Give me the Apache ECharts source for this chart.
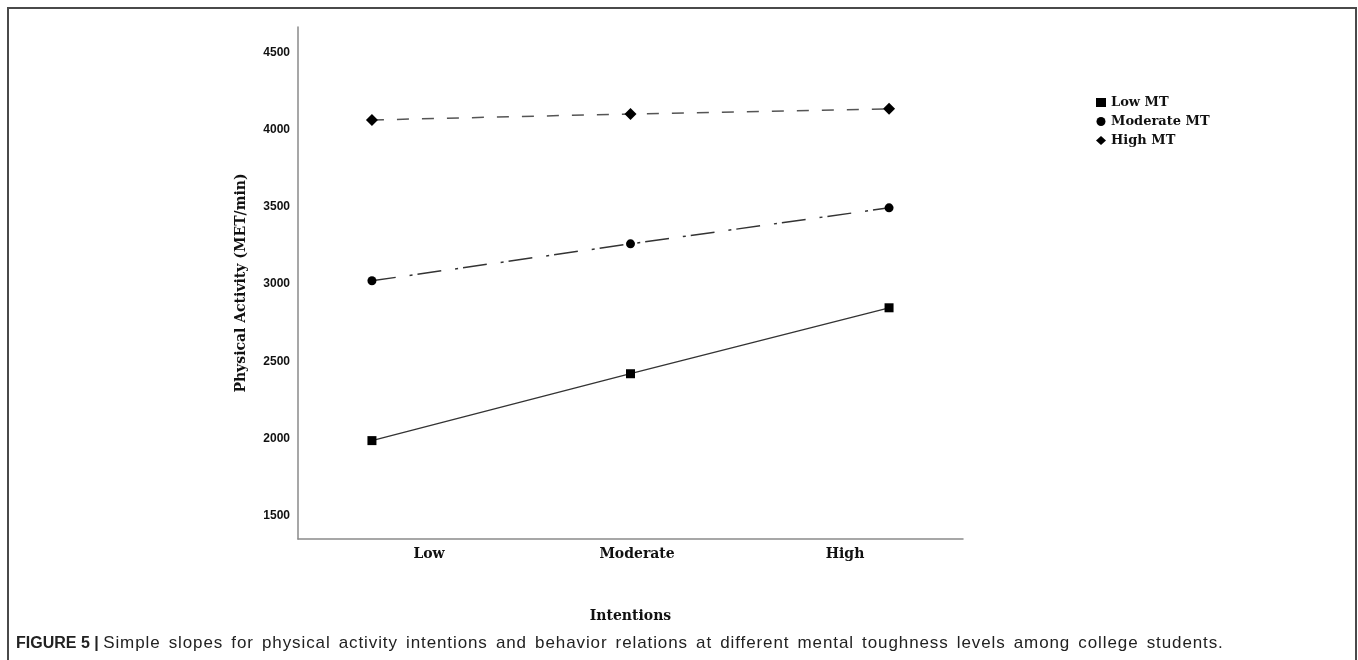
<!DOCTYPE html>
<html>
<head>
<meta charset="utf-8">
<script src="https://cdn.jsdelivr.net/npm/echarts@6/dist/echarts.min.js"></script>
<style>
  html, body { margin: 0; padding: 0; background: #fff; }
  #frame { position: absolute; left: 7px; top: 7px; width: 1346px; height: 720px;
           border: 2px solid #4a4a4a; border-bottom: none; }
  #chart { position: absolute; left: 0; top: 0; width: 1358px; height: 660px; }
  #caption { position: absolute; left: 16px; top: 633px; font-family: "Liberation Sans", Arial, sans-serif;
             font-size: 16px; color: #222; white-space: nowrap; }
  #caption span { font-size: 17px; letter-spacing: 0.9px; word-spacing: 2.5px; }
</style>
</head>
<body>
<div id="frame"></div>
<div id="chart"></div>
<div id="caption"><b>FIGURE 5 |</b> <span>Simple slopes for physical activity intentions and behavior relations at different mental toughness levels among college students.</span></div>
<script>
const categories = ['Low', 'Moderate', 'High'];
const seriesNames = ['Low MT', 'Moderate MT', 'High MT'];
const lowMT = [1987, 2420, 2847];
const moderateMT = [3022, 3261, 3494];
const highMT = [4063, 4102, 4135];
const yTicks = [1500, 2000, 2500, 3000, 3500, 4000, 4500];

const serif = '"DejaVu Serif", serif';
const toPts = arr => arr.map((v, i) => [i, v]);
const catLabel = v => (Math.abs(v - Math.round(v)) < 1e-6 && categories[Math.round(v)] !== undefined) ? categories[Math.round(v)] : '';

const chart = echarts.init(document.getElementById('chart'));
chart.setOption({
  animation: false,
  backgroundColor: 'transparent',
  grid: { left: 298, right: 395, top: 27, bottom: 121 },
  legend: {
    orient: 'vertical', left: 1091, top: 91, itemGap: 6, itemWidth: 10, itemHeight: 9,
    textStyle: { fontFamily: serif, fontWeight: 'bold', fontSize: 13, color: '#111' },
    data: [
      { name: seriesNames[0], icon: 'rect', itemStyle: { color: '#000' } },
      { name: seriesNames[1], icon: 'circle', itemStyle: { color: '#000' } },
      { name: seriesNames[2], icon: 'diamond', itemStyle: { color: '#000' } }
    ]
  },
  xAxis: [
    {
      type: 'value', min: -0.286, max: 2.286, splitNumber: 2,
      axisLine: { show: true, onZero: false, lineStyle: { color: '#8a8a8a', width: 1.5 } },
      axisTick: { show: false }, splitLine: { show: false },
      axisLabel: { show: false }
    },
    {
      type: 'value', position: 'bottom', min: -0.63, max: 2.567, splitNumber: 3,
      axisLine: { show: false, onZero: false }, axisTick: { show: false }, splitLine: { show: false },
      axisLabel: { show: true, showMinLabel: false, showMaxLabel: false, formatter: catLabel, margin: 8,
                   fontFamily: serif, fontWeight: 'bold', fontSize: 14, color: '#111' },
      name: 'Intentions', nameLocation: 'middle', nameGap: 70,
      nameTextStyle: { fontFamily: serif, fontWeight: 'bold', fontSize: 14, color: '#111' }
    }
  ],
  yAxis: {
    type: 'value', min: 1350, max: 4665, splitNumber: 7,
    axisLine: { show: true, onZero: false, lineStyle: { color: '#8a8a8a', width: 1.5 } },
    axisTick: { show: false }, splitLine: { show: false },
    axisLabel: { showMinLabel: false, showMaxLabel: false, margin: 8,
                 formatter: v => yTicks.includes(v) ? String(v) : '',
                 fontFamily: '"Liberation Sans", Arial, sans-serif', fontWeight: 'bold', fontSize: 12, color: '#111' },
    name: 'Physical Activity (MET/min)', nameLocation: 'middle', nameGap: 50,
    nameTextStyle: { fontFamily: serif, fontWeight: 'bold', fontSize: 14, color: '#111' }
  },
  series: [
    {
      name: seriesNames[0], type: 'line', xAxisIndex: 0, data: toPts(lowMT),
      symbol: 'rect', symbolSize: 9, itemStyle: { color: '#000' },
      lineStyle: { color: '#333', width: 1.3, type: 'solid' }
    },
    {
      name: seriesNames[1], type: 'line', xAxisIndex: 0, data: toPts(moderateMT),
      symbol: 'circle', symbolSize: 9, itemStyle: { color: '#000' },
      lineStyle: { color: '#333', width: 1.5, type: [24, 14, 3, 5] }
    },
    {
      name: seriesNames[2], type: 'line', xAxisIndex: 0, data: toPts(highMT),
      symbol: 'diamond', symbolSize: [12, 12], itemStyle: { color: '#000' },
      lineStyle: { color: '#555', width: 1.5, type: [12, 13] }
    }
  ]
});
</script>
</body>
</html>
